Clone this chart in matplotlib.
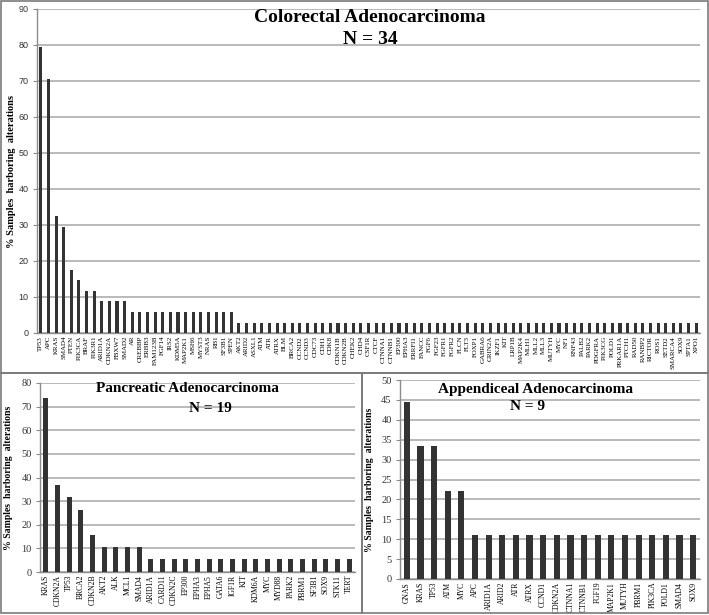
import matplotlib
matplotlib.use("Agg")
import matplotlib.pyplot as plt
from matplotlib.patches import Rectangle

# ---------------- Data ----------------
crc_genes = ["TP53", "APC", "KRAS", "SMAD4", "PTEN", "PIK3CA", "BRAF", "PIK3R1",
             "ARID1A", "CDKN2A", "FBXW7", "SMAD2",
             "AR", "CREBBP", "ERBB3", "FAM123B", "FGF14", "IRS2", "KDM5A", "MAP2K1",
             "MSH6", "MYST3", "NRAS", "RB1", "SF3B1", "SPEN",
             "AKT2", "ARID2", "ASXL1", "ATM", "ATR", "ATRX", "BLM", "BRCA2", "CCND2",
             "CCND3", "CDC73", "CDH1", "CDK8", "CDKN1B", "CDKN2B", "CHEK2", "CHD4",
             "CSF1R", "CTCF", "CTNNA1", "CTNNB1", "EP300", "EPHA3", "ERRFI1", "FANCC",
             "FGF6", "FGF23", "FGFR1", "FGFR2", "FLCN", "FLT3", "FOXP1", "GABRA6",
             "GRIN2A", "IKZF1", "KIT", "LRP1B", "MAP2K4", "MLH1", "MLL2", "MLL3",
             "MUTYH", "MYC", "NF1", "RNF43", "PALB2", "PARK2", "PDGFRA", "PIK3CG",
             "POLD1", "PRKAR1A", "PTCH1", "RAD50", "RANBP2", "RICTOR", "ROS1",
             "SETD2", "SMARCA4", "SOX9", "SPTA1", "XPO1"]
crc_values = [79.4, 70.6, 32.4, 29.4, 17.6, 14.7, 11.8, 11.8,
              8.8, 8.8, 8.8, 8.8] + [5.9] * 14 + [2.9] * 61

panc_genes = ["KRAS", "CDKN2A", "TP53", "BRCA2", "CDKN2B", "AKT2", "ALK", "MCL1",
              "SMAD4", "ARID1A", "CARD11", "CDKN2C", "EP300", "EPHA3", "EPHA5",
              "GATA6", "IGF1R", "KIT", "KDM6A", "MYC", "MYD88", "PARK2", "PBRM1",
              "SF3B1", "SOX9", "STK11", "TERT"]
panc_values = [73.7, 36.8, 31.6, 26.3, 15.8, 10.5, 10.5, 10.5, 10.5] + [5.3] * 18

app_genes = ["GNAS", "KRAS", "TP53", "ATM", "MYC", "APC", "ARID1A", "ARID2", "ATR",
             "ATRX", "CCND1", "CDKN2A", "CTNNA1", "CTNNB1", "FGF19", "MAP2K1",
             "MUTYH", "PBRM1", "PIK3CA", "POLD1", "SMAD4", "SOX9"]
app_values = [44.4, 33.3, 33.3, 22.2, 22.2] + [11.1] * 17

# ---------------- Figure ----------------
W, H = 709, 615
fig = plt.figure(figsize=(W / 100, H / 100), dpi=100)
fig.patch.set_facecolor("white")

serif = "Liberation Serif"
sans = "Liberation Sans"
bar_color = "#333333"
grid_color = "#b4b4b4"
spine_color = "#8c8c8c"


def px(x0, y0, x1, y1):
    return [x0 / W, 1 - y1 / H, (x1 - x0) / W, (y1 - y0) / H]


# panel borders
for (x0, y0, x1, y1) in [(1, 1, 708, 373), (1, 373, 362, 613), (362, 373, 708, 613)]:
    fig.patches.append(Rectangle((x0 / W, 1 - y1 / H), (x1 - x0) / W, (y1 - y0) / H,
                                 transform=fig.transFigure, fill=False,
                                 edgecolor="#7a7a7a", linewidth=1.2))


def panel(rect, genes, values, ymax, ystep, barw, xfs, yfs, ytick_font,
          ylabel_x, ylabel_fs):
    ax = fig.add_axes(px(*rect))
    x = list(range(len(genes)))
    ax.bar(x, values, width=barw, color=bar_color, zorder=3)
    ax.set_xlim(-0.5, len(genes) - 0.5)
    ax.set_ylim(0, ymax)
    ax.set_yticks(list(range(0, ymax + 1, ystep)))
    ax.yaxis.grid(True, color=grid_color, linewidth=1.3, zorder=0)
    ax.set_axisbelow(True)
    ax.set_xticks(x)
    ax.set_xticklabels(genes, rotation=90, fontsize=xfs, family=serif)
    ax.tick_params(axis="x", length=0, pad=2)
    ax.tick_params(axis="y", length=3, color=spine_color, labelsize=yfs,
                   labelcolor="#333333", pad=3)
    for lab in ax.get_yticklabels():
        lab.set_family(ytick_font)
    for s in ["top", "right"]:
        ax.spines[s].set_visible(False)
    for s in ["left", "bottom"]:
        ax.spines[s].set_color(spine_color)
        ax.spines[s].set_linewidth(1.0)
    ax.set_ylabel("% Samples  harboring  alterations", family=serif,
                  fontweight="bold", fontsize=ylabel_fs)
    ax.yaxis.set_label_coords(ylabel_x, 0.5)
    return ax


ax1 = panel((37, 9, 700, 333), crc_genes, crc_values, 90, 10, 0.4, 5.0, 6.5, sans,
            -0.032, 7.5)
ax2 = panel((40, 383, 355, 572), panc_genes, panc_values, 80, 10, 0.45, 5.5, 7.5, serif,
            -0.085, 7)
ax3 = panel((400, 380, 700, 579), app_genes, app_values, 50, 5, 0.45, 5.5, 7.5, serif,
            -0.085, 7)

# titles
fig.text(370 / W, 1 - 17 / H, "Colorectal Adenocarcinoma", family=serif,
         fontweight="bold", fontsize=14, ha="center", va="center")
fig.text(370 / W, 1 - 40 / H, "N = 34", family=serif,
         fontweight="bold", fontsize=14, ha="center", va="center")
fig.text(187 / W, 1 - 389 / H, "Pancreatic Adenocarcinoma", family=serif,
         fontweight="bold", fontsize=11, ha="center", va="center")
fig.text(210 / W, 1 - 409 / H, "N = 19", family=serif,
         fontweight="bold", fontsize=11, ha="center", va="center")
fig.text(536 / W, 1 - 389 / H, "Appendiceal Adenocarcinoma", family=serif,
         fontweight="bold", fontsize=11, ha="center", va="center")
fig.text(528 / W, 1 - 407 / H, "N = 9", family=serif,
         fontweight="bold", fontsize=11, ha="center", va="center")

fig.savefig("out.png", dpi=100, facecolor="white")
